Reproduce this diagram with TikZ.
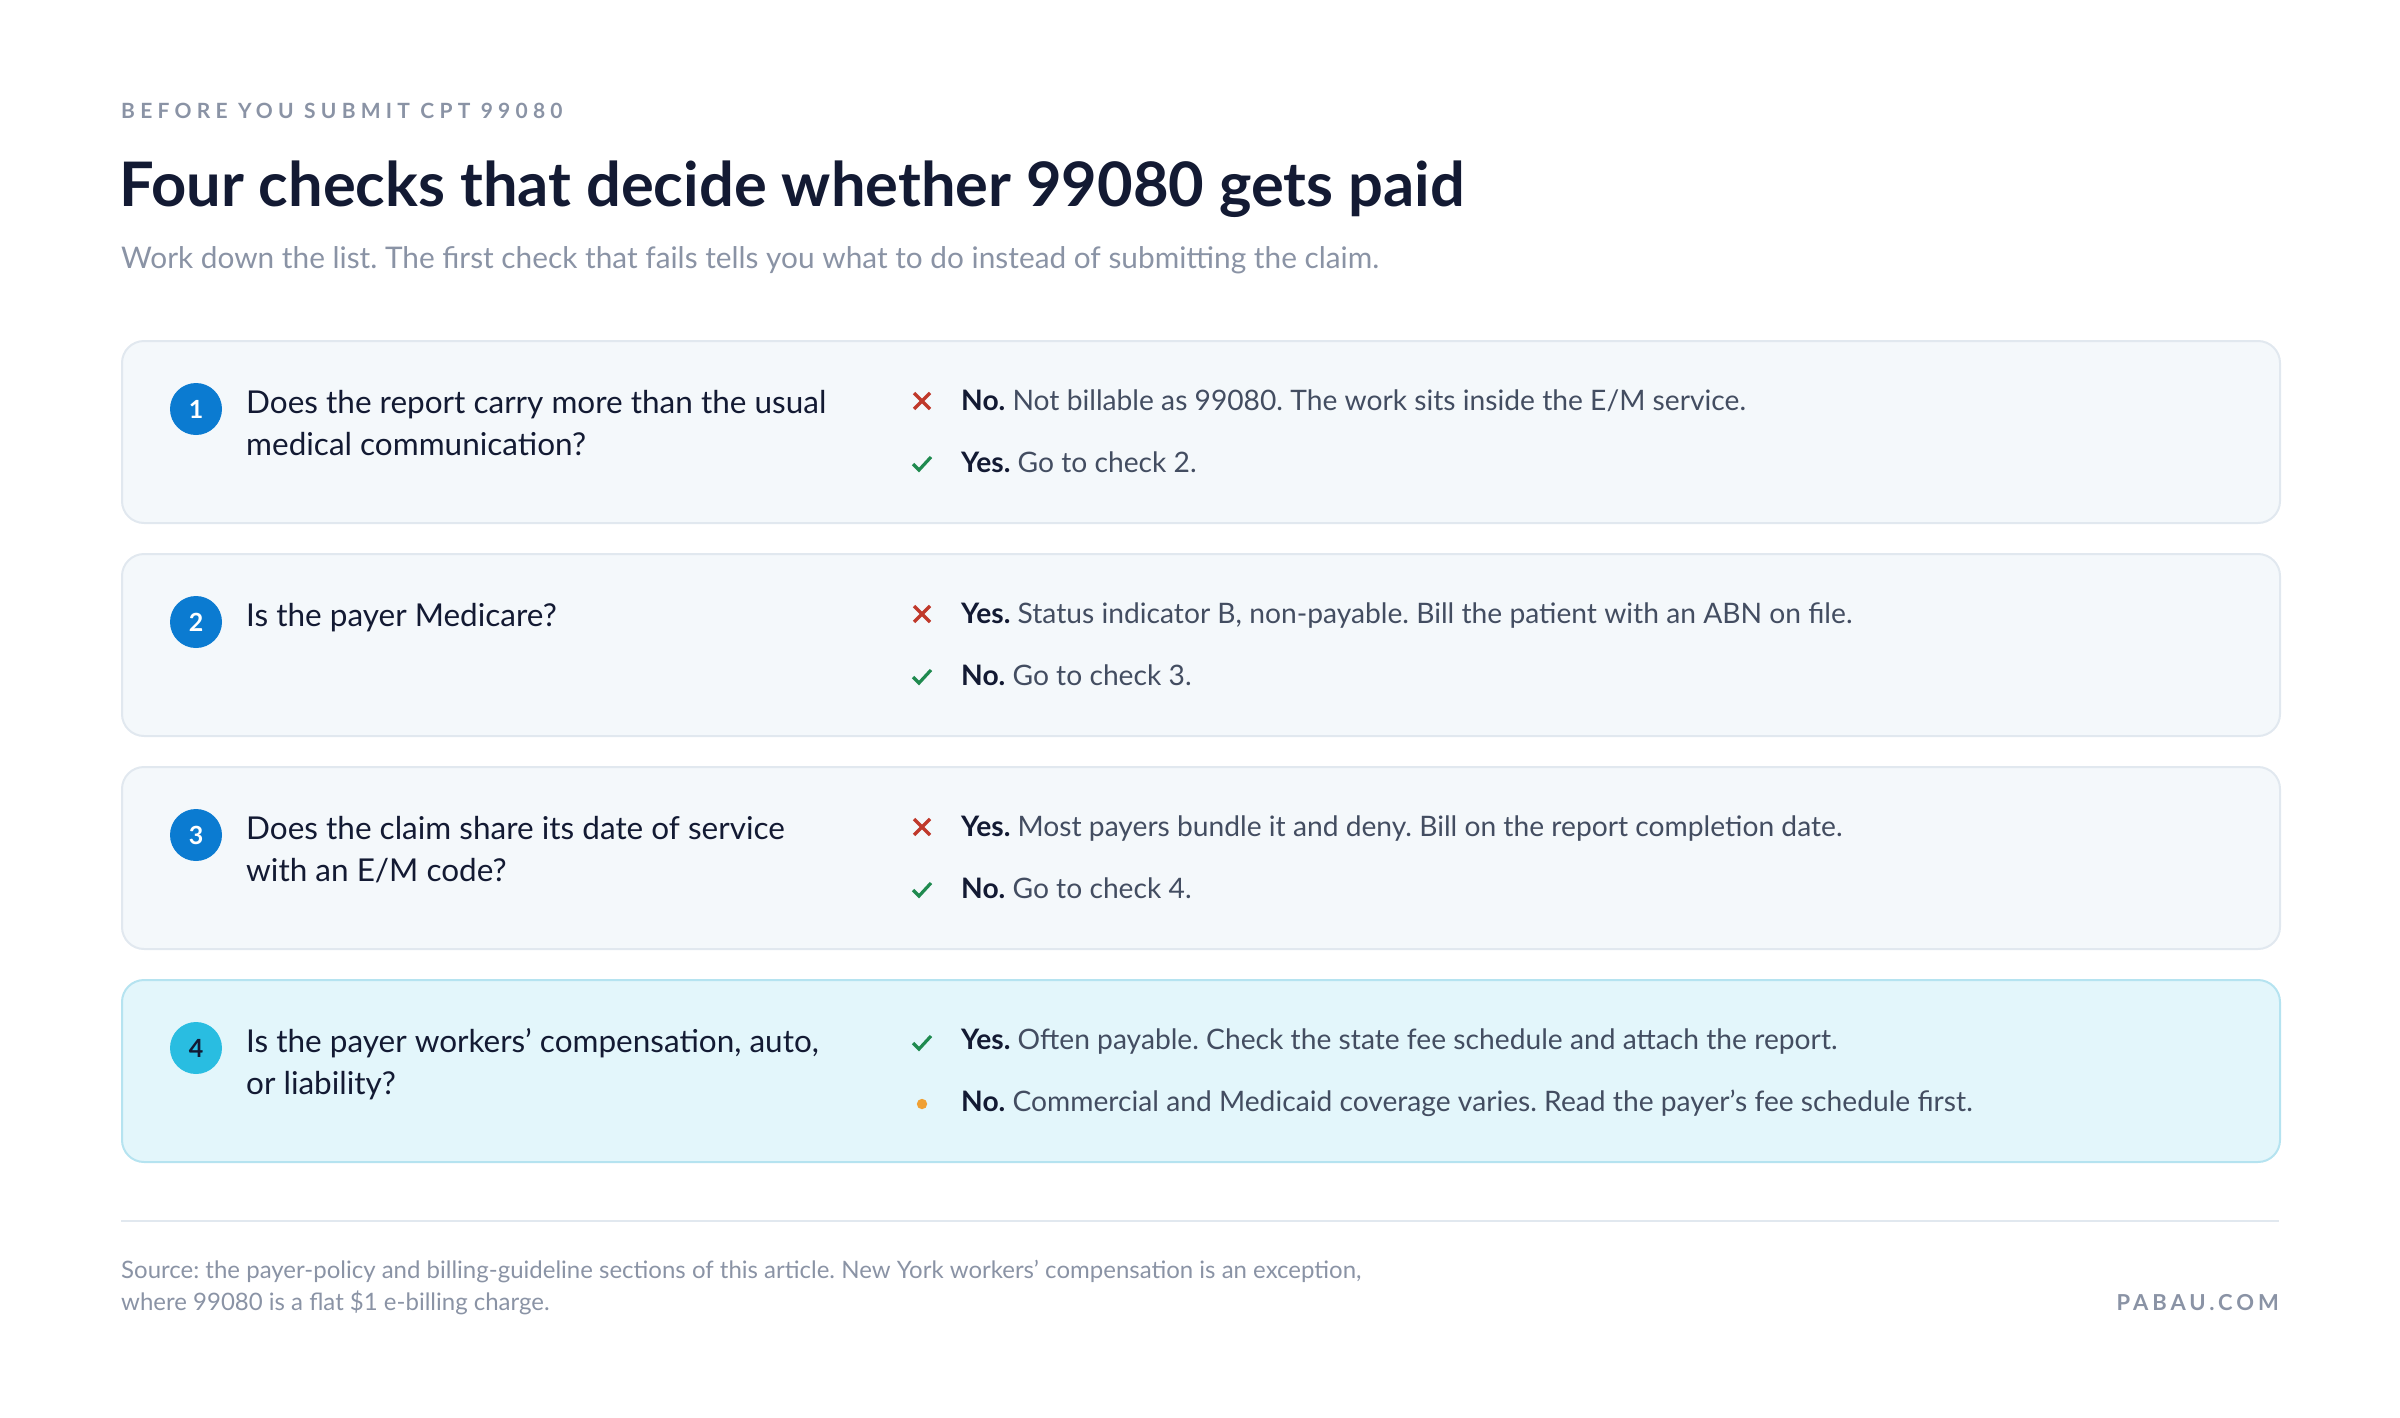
\documentclass[tikz,border=0pt]{standalone}
\usepackage{fontspec}
\setmainfont{Lato}
\newfontfamily\trackfont[LetterSpace=25]{Lato}
\newfontfamily\brandfont[LetterSpace=18]{Lato}
\usetikzlibrary{calc}
\frenchspacing

\definecolor{ink}{HTML}{131A33}
\definecolor{body}{HTML}{434D61}
\definecolor{muted}{HTML}{8A93A5}
\definecolor{cardfill}{HTML}{F4F8FB}
\definecolor{cardline}{HTML}{E1E8EF}
\definecolor{hotfill}{HTML}{E3F6FB}
\definecolor{hotline}{HTML}{B5E3F0}
\definecolor{numblue}{HTML}{0B7BD1}
\definecolor{numcyan}{HTML}{29BDE1}
\definecolor{nored}{HTML}{C0392B}
\definecolor{yesgreen}{HTML}{1F8A4F}
\definecolor{warnorange}{HTML}{F0A033}

% marks in front of the answers
\newcommand{\markno}[1]{\draw[nored, line width=3.4] ($(#1)+(-8,-8)$) -- ($(#1)+(8,8)$) ($(#1)+(8,-8)$) -- ($(#1)+(-8,8)$);}
\newcommand{\markyes}[1]{\draw[yesgreen, line width=3.2] ($(#1)+(-9,-1)$) -- ($(#1)+(-3,5)$) -- ($(#1)+(9,-8)$);}
\newcommand{\markdot}[1]{\fill[warnorange] (#1) circle (5.2);}

\begin{document}
\begin{tikzpicture}[
    x=1pt, y=-1pt,
    card/.style={draw=cardline, fill=cardfill, line width=2, rounded corners=22,
        minimum width=2158, minimum height=182, anchor=north west, inner sep=0},
    hotcard/.style={card, draw=hotline, fill=hotfill},
    num/.style={circle, fill=numblue, text=white, minimum size=52, inner sep=0,
        font=\fontsize{25}{25}\selectfont\bfseries},
    question/.style={anchor=base west, inner sep=0, align=left, text=ink,
        font=\fontsize{31.5}{42}\selectfont},
    answer/.style={anchor=base west, inner sep=0, text=body,
        font=\fontsize{28.2}{30}\selectfont}
  ]
  \useasboundingbox (0,0) rectangle (2400,1418);

  % Kopf
  \node[anchor=base west, inner sep=0, text=muted, font=\trackfont\bfseries\fontsize{21}{21}\selectfont]
    (kicker) at (121,119) {BEFORE YOU SUBMIT CPT 99080};
  \node[anchor=base west, inner sep=0, text=ink, font=\bfseries\fontsize{61.4}{70}\selectfont]
    (title) at (119,206) {Four checks that decide whether 99080 gets paid};
  \node[anchor=base west, inner sep=0, text=muted, font=\fontsize{29.8}{30}\selectfont]
    (sub) at (121,268) {Work down the list. The first check that fails tells you what to do instead of submitting the claim.};

  % Karten
  \foreach \k in {1,2,3}
    \node[card] (c\k) at (121,{340+213*(\k-1)}) {};
  \node[hotcard] (c4) at (121,979) {};

  \foreach \k in {1,2,3}
    \node[num] (n\k) at ($(c\k.north west)+(75,69)$) {\k};
  \node[num, fill=numcyan, text=ink] (n4) at ($(c4.north west)+(75,69)$) {4};

  % Fragen (base = Grundlinie der letzten Zeile)
  \node[question] (q1) at ($(c1.north west)+(125,115)$) {Does the report carry more than the usual\\medical communication?};
  \node[question] (q2) at ($(c2.north west)+(125,73)$) {Is the payer Medicare?};
  \node[question] (q3) at ($(c3.north west)+(125,115)$) {Does the claim share its date of service\\with an E/M code?};
  \node[question] (q4) at ($(c4.north west)+(125,115)$) {Is the payer workers' compensation, auto,\\or liability?};

  % Antworten
  \node[answer] (a1) at ($(c1.north west)+(840,70)$) {\textcolor{ink}{\bfseries No.} Not billable as 99080. The work sits inside the E/M service.};
  \node[answer] (b1) at ($(c1.north west)+(840,132)$) {\textcolor{ink}{\bfseries Yes.} Go to check 2.};
  \node[answer] (a2) at ($(c2.north west)+(840,70)$) {\textcolor{ink}{\bfseries Yes.} Status indicator B, non-payable. Bill the patient with an ABN on file.};
  \node[answer] (b2) at ($(c2.north west)+(840,132)$) {\textcolor{ink}{\bfseries No.} Go to check 3.};
  \node[answer] (a3) at ($(c3.north west)+(840,70)$) {\textcolor{ink}{\bfseries Yes.} Most payers bundle it and deny. Bill on the report completion date.};
  \node[answer] (b3) at ($(c3.north west)+(840,132)$) {\textcolor{ink}{\bfseries No.} Go to check 4.};
  \node[answer] (a4) at ($(c4.north west)+(840,70)$) {\textcolor{ink}{\bfseries Yes.} Often payable. Check the state fee schedule and attach the report.};
  \node[answer] (b4) at ($(c4.north west)+(840,132)$) {\textcolor{ink}{\bfseries No.} Commercial and Medicaid coverage varies. Read the payer's fee schedule first.};

  \foreach \k in {1,2,3} {
    \markno{$(c\k.north west)+(801,61)$}
    \markyes{$(c\k.north west)+(801,125)$}
  }
  \markyes{$(c4.north west)+(801,65)$}
  \markdot{$(c4.north west)+(801,125)$}

  % Fuss
  \draw[cardline, line width=2] (121,1221) -- (2279,1221);
  \node[anchor=base west, inner sep=0, text=muted, align=left, font=\fontsize{24}{32}\selectfont]
    (src) at (121,1310) {Source: the payer-policy and billing-guideline sections of this article. New York workers' compensation is an exception,\\where 99080 is a flat \$1 e-billing charge.};
  \node[anchor=base east, inner sep=0, text=muted, font=\brandfont\bfseries\fontsize{22}{22}\selectfont]
    (brand) at (2279,1310) {PABAU.COM};
\end{tikzpicture}
\end{document}
